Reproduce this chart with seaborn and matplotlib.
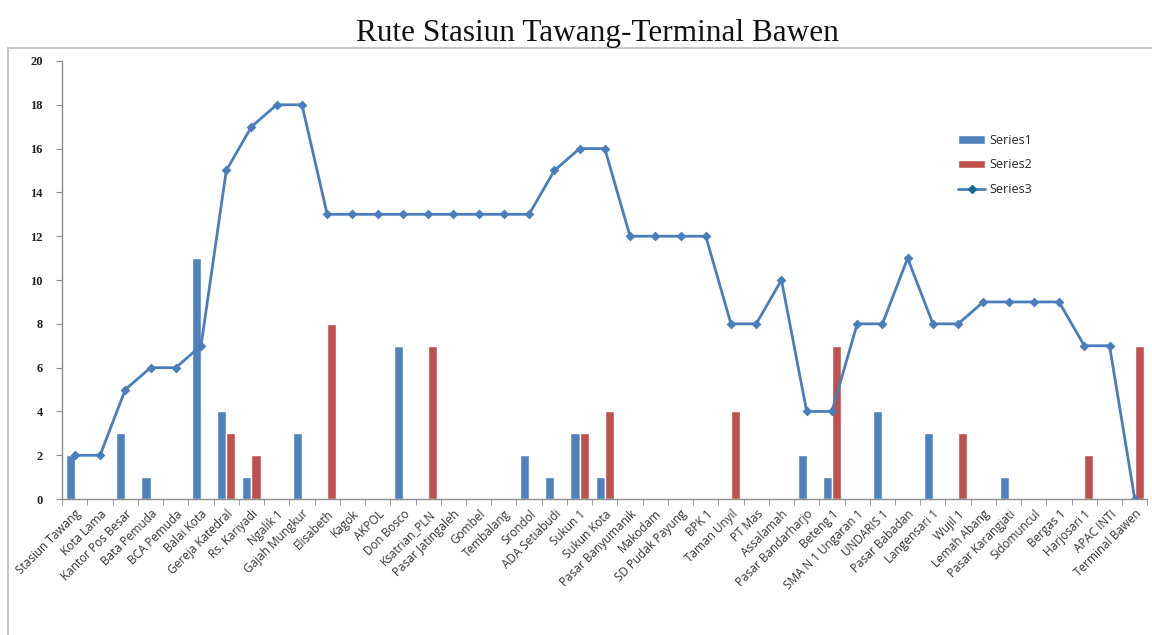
import numpy as np
import pandas as pd
import matplotlib
matplotlib.use('Agg')
import matplotlib.pyplot as plt
import seaborn as sns
from matplotlib.patches import Patch, Rectangle
from matplotlib.lines import Line2D

stops = [
    'Stasiun Tawang', 'Kota Lama', 'Kantor Pos Besar', 'Bata Pemuda', 'BCA Pemuda',
    'Balai Kota', 'Gereja Katedral', 'Rs. Kariyadi', 'Ngalik 1', 'Gajah Mungkur',
    'Elisabeth', 'Kagok', 'AKPOL', 'Don Bosco', 'Ksatrian_PLN', 'Pasar Jatingaleh',
    'Gombel', 'Tembalang', 'Srondol', 'ADA Setiabudi', 'Sukun 1', 'Sukun Kota',
    'Pasar Banyumanik', 'Makodam', 'SD Pudak Payung', 'BPK 1', 'Taman Unyil',
    'PT Mas', 'Assalamah', 'Pasar Bandarharjo', 'Beteng 1', 'SMA N 1 Ungaran 1',
    'UNDARIS 1', 'Pasar Babadan', 'Langensari 1', 'Wujil 1', 'Lemah Abang',
    'Pasar Karangjati', 'Sidomuncul', 'Bergas 1', 'Harjosari 1', 'APAC INTI',
    'Terminal Bawen',
]

series1 = [2, 0, 3, 1, 0, 11, 4, 1, 0, 3, 0, 0, 0, 7, 0, 0, 0, 0, 2, 1, 3, 1,
           0, 0, 0, 0, 0, 0, 0, 2, 1, 0, 4, 0, 3, 0, 0, 1, 0, 0, 0, 0, 0]
series2 = [0, 0, 0, 0, 0, 0, 3, 2, 0, 0, 8, 0, 0, 0, 7, 0, 0, 0, 0, 0, 3, 4,
           0, 0, 0, 0, 4, 0, 0, 0, 7, 0, 0, 0, 0, 3, 0, 0, 0, 0, 2, 0, 7]
series3 = [2, 2, 5, 6, 6, 7, 15, 17, 18, 18, 13, 13, 13, 13, 13, 13, 13, 13, 13, 15, 16, 16,
           12, 12, 12, 12, 8, 8, 10, 4, 4, 8, 8, 11, 8, 8, 9, 9, 9, 9, 7, 7, 0]

blue = '#4F81BD'
red = '#C0504D'
line_col = '#4A7EBB'
marker_col = '#1F6A93'

bars = pd.DataFrame({
    'Halte': stops * 2,
    'Jumlah': series1 + series2,
    'Seri': ['Series1'] * len(stops) + ['Series2'] * len(stops),
})

sns.set_style('white')
fig = plt.figure(figsize=(11.52, 6.35), dpi=100)
ax = fig.add_axes([0.054, 0.214, 0.942, 0.690])

sns.barplot(data=bars, x='Halte', y='Jumlah', hue='Seri', order=stops,
            palette=[blue, red], width=0.72, saturation=1, legend=False, ax=ax)
sns.pointplot(x=stops, y=series3, order=stops, color=line_col, markers='D',
              markersize=3.5, linewidth=2, ax=ax)
for c in ax.collections:
    c.set_facecolor(marker_col)
    c.set_edgecolor(marker_col)

ax.set_xlim(-0.5, len(stops) - 0.5)
ax.set_ylim(0, 20)
ax.set_yticks(range(0, 21, 2))
ax.set_xlabel('')
ax.set_ylabel('')

for s in ['top', 'right']:
    ax.spines[s].set_visible(False)
for s in ['left', 'bottom']:
    ax.spines[s].set_color('#8C8C8C')
    ax.spines[s].set_linewidth(1)

ax.set_xticks(np.arange(len(stops)))
ax.set_xticklabels(stops, rotation=45, ha='right', rotation_mode='anchor',
                   fontsize=8.5, color='#333333', family='Open Sans')
ax.set_xticks(np.arange(len(stops) + 1) - 0.5, minor=True)
ax.tick_params(axis='x', which='major', length=0, pad=6)
ax.tick_params(axis='x', which='minor', length=4, color='#8C8C8C', direction='out', bottom=True)
ax.tick_params(axis='y', length=4, color='#8C8C8C', direction='out', left=True, pad=10)
for lab in ax.get_yticklabels():
    lab.set_fontweight('bold')
    lab.set_fontsize(9)
    lab.set_family('Liberation Serif')
    lab.set_color('#222222')

handles = [
    Patch(facecolor=blue, label='Series1'),
    Patch(facecolor=red, label='Series2'),
    Line2D([0], [0], color=line_col, lw=2, marker='D', markersize=4,
           markerfacecolor=marker_col, markeredgecolor=marker_col, label='Series3'),
]
ax.legend(handles=handles, loc='upper left', bbox_to_anchor=(0.815, 0.86), frameon=False,
          prop={'family': 'Open Sans', 'size': 9}, handlelength=2.2, labelspacing=0.95,
          handletextpad=0.3)

fig.text(0.519, 0.948, 'Rute Stasiun Tawang-Terminal Bawen', ha='center', va='center',
         fontsize=22.5, family='Liberation Serif', color='#111111')

fig.patches.append(Rectangle((0.007, -0.01), 1.0, 0.935, transform=fig.transFigure,
                             fill=False, edgecolor='#C8C8C8', linewidth=1.5))

fig.savefig('out.png', dpi=100)
